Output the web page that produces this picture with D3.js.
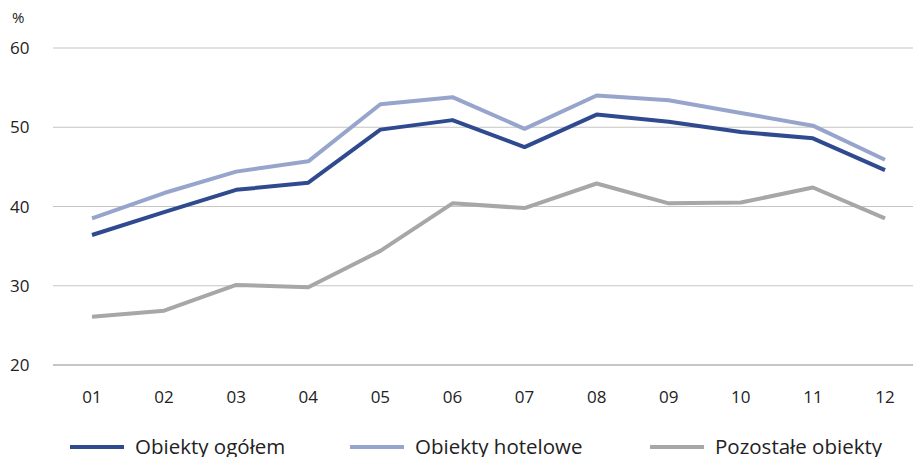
<!DOCTYPE html>
<html>
<meta charset="utf-8">
<style>
  body { margin: 0; background: #fff; }
  text { font-family: "Open Sans", "Noto Sans", sans-serif; fill: #222; }
</style>
<body>
<div id="chart"></div>
<script src="https://cdnjs.cloudflare.com/ajax/libs/d3/7.8.5/d3.min.js"></script>
<script>
  // months on the x axis
  var months = ["01", "02", "03", "04", "05", "06", "07", "08", "09", "10", "11", "12"];
  var yTicks = [20, 30, 40, 50, 60];

  // series values, %
  var ogolem    = [36.4, 39.3, 42.1, 43.0, 49.7, 50.9, 47.5, 51.6, 50.7, 49.4, 48.6, 44.6];
  var hotelowe  = [38.5, 41.7, 44.4, 45.7, 52.9, 53.8, 49.8, 54.0, 53.4, 51.8, 50.2, 45.9];
  var pozostale = [26.1, 26.85, 30.1, 29.8, 34.4, 40.4, 39.8, 42.9, 40.4, 40.5, 42.4, 38.5];

  var series = [
    { name: "Obiekty ogółem", values: ogolem, color: "#2f4a8e" },
    { name: "Obiekty hotelowe", values: hotelowe, color: "#97a5cd" },
    { name: "Pozostałe obiekty", values: pozostale, color: "#a7a7a7" }
  ];

  var W = 913, H = 457;
  var svg = d3.select("#chart").append("svg").attr("width", W).attr("height", H);

  var x = d3.scalePoint().domain(months).range([92, 885]);
  var y = d3.scaleLinear().domain([20, 60]).range([365, 48]);

  // horizontal grid lines
  svg.append("g").selectAll("line")
    .data(yTicks)
    .enter().append("line")
      .attr("x1", 53).attr("x2", W)
      .attr("y1", function (d) { return y(d); })
      .attr("y2", function (d) { return y(d); })
      .attr("stroke", function (d) { return d === 20 ? "#8c8c8c" : "#c4c4c4"; })
      .attr("stroke-width", 1.2);

  // y tick labels
  svg.append("g").selectAll("text")
    .data(yTicks)
    .enter().append("text")
      .attr("x", 10)
      .attr("y", function (d) { return y(d) + 6; })
      .style("font-size", "17px")
      .text(function (d) { return d; });

  svg.append("text").attr("x", 12).attr("y", 23).style("font-size", "15px").text("%");

  // x tick labels
  svg.append("g").selectAll("text")
    .data(months)
    .enter().append("text")
      .attr("x", function (d) { return x(d); })
      .attr("y", 403)
      .attr("text-anchor", "middle")
      .style("font-size", "17px")
      .text(function (d) { return d; });

  var line = d3.line()
    .x(function (d, i) { return x(months[i]); })
    .y(function (d) { return y(d); });

  // draw back to front: gray, light blue, dark blue
  svg.append("g").selectAll("path")
    .data(series.slice().reverse())
    .enter().append("path")
      .attr("d", function (s) { return line(s.values); })
      .attr("fill", "none")
      .attr("stroke", function (s) { return s.color; })
      .attr("stroke-width", 4)
      .attr("stroke-linejoin", "round");

  // legend
  var legendX = [70, 350, 650];
  var lg = svg.append("g").selectAll("g")
    .data(series)
    .enter().append("g")
      .attr("transform", function (d, i) { return "translate(" + legendX[i] + ",447)"; });
  lg.append("line")
    .attr("x1", 0).attr("x2", 54).attr("y1", 0).attr("y2", 0)
    .attr("stroke", function (d) { return d.color; })
    .attr("stroke-width", 4);
  lg.append("text")
    .attr("x", 65).attr("y", 7)
    .style("font-size", "20.5px")
    .text(function (d) { return d.name; });
</script>
</body>
</html>
